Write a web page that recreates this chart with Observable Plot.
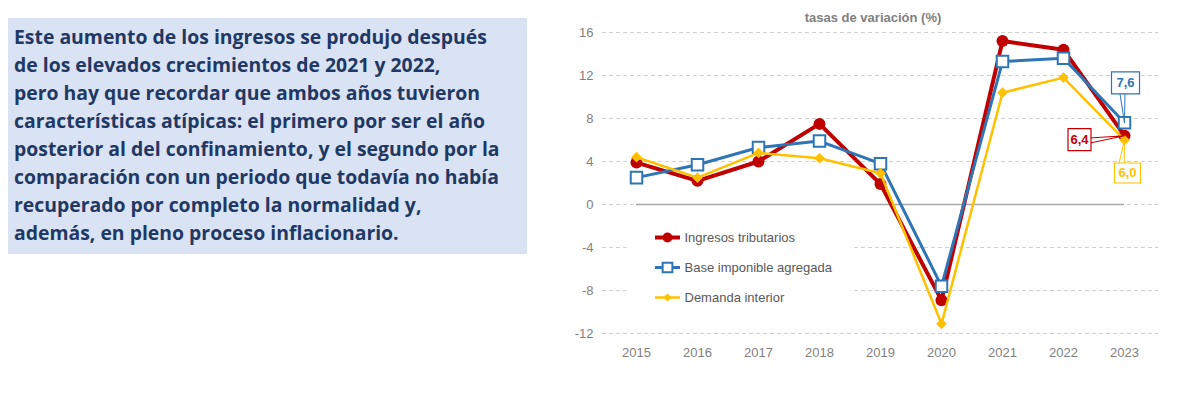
<!DOCTYPE html>
<html><head><meta charset="utf-8">
<script src="https://cdn.jsdelivr.net/npm/d3@7"></script>
<script src="https://cdn.jsdelivr.net/npm/@observablehq/plot@0.6"></script>
<style>
html,body{margin:0;padding:0;background:#fff}
body{width:1187px;height:397px;position:relative;overflow:hidden}
#note{position:absolute;left:8px;top:18px;width:519px;height:236px;background:#dae3f3;box-sizing:border-box;padding:5px 0 0 6px;color:#1f3864;font:700 19.4px/28px "Open Sans",sans-serif;white-space:nowrap}
#title{position:absolute;left:773px;top:10px;width:200px;text-align:center;font:700 13px "Liberation Sans",sans-serif;color:#7f7f7f}
#chart{position:absolute;left:540px;top:0}
</style></head>
<body>
<div id="note">Este aumento de los ingresos se produjo después<br>de los elevados crecimientos de 2021 y 2022,<br>pero hay que recordar que ambos años tuvieron<br>características atípicas: el primero por ser el año<br>posterior al del confinamiento, y el segundo por la<br>comparación con un periodo que todavía no había<br>recuperado por completo la normalidad y,<br>además, en pleno proceso inflacionario.</div>
<div id="title">tasas de variación (%)</div>
<div id="chart"></div>
<script>
const years = [2015, 2016, 2017, 2018, 2019, 2020, 2021, 2022, 2023];
const ingresos = [3.9, 2.2, 4.0, 7.5, 1.9, -8.9, 15.2, 14.4, 6.4];
const base = [2.5, 3.7, 5.3, 5.9, 3.8, -7.6, 13.3, 13.6, 7.6];
const demanda = [4.4, 2.5, 4.8, 4.3, 2.9, -11.1, 10.4, 11.8, 6.0];
const seriesNames = ["Ingresos tributarios", "Base imponible agregada", "Demanda interior"];
const yTicks = [-12, -8, -4, 0, 4, 8, 12, 16];
const labelFmt = v => v.toFixed(1).replace(".", ",");

const RED = "#c00000", BLUE = "#2e75b6", YEL = "#ffc000";
const toRows = vals => years.map((year, i) => ({year, value: vals[i]}));
const rIng = toRows(ingresos), rBase = toRows(base), rDem = toRows(demanda);
const last = arr => [{year: years[years.length - 1], value: arr[arr.length - 1]}];

const rectSym = (w, h) => ({draw(ctx) { ctx.rect(-w / 2, -h / 2, w, h); }});
const segSym = (w) => ({draw(ctx) { ctx.moveTo(-w / 2, 0); ctx.lineTo(w / 2, 0); }});

const legendRows = [
  {name: seriesNames[0], color: RED, dy: 205, lw: 4, marker: {symbol: "circle", r: 5, fill: RED, stroke: "none"}},
  {name: seriesNames[1], color: BLUE, dy: 235, lw: 3, marker: {symbol: "square", r: 5.5, fill: "white", stroke: BLUE, strokeWidth: 2}},
  {name: seriesNames[2], color: YEL, dy: 265, lw: 2.5, marker: {symbol: "diamond2", r: 3.6, fill: YEL, stroke: "none"}}
];
const legendMarks = legendRows.flatMap(row => [
  Plot.dot([0], {frameAnchor: "top-left", dx: 65, dy: row.dy, symbol: segSym(25), stroke: row.color, strokeWidth: row.lw, fill: "none"}),
  Plot.dot([0], {frameAnchor: "top-left", dx: 65, dy: row.dy, ...row.marker}),
  Plot.text([row.name], {frameAnchor: "top-left", dx: 82, dy: row.dy, text: d => d, textAnchor: "start", lineAnchor: "middle", fill: "#595959", fontSize: 13})
]);

const callouts = [
  {data: last(base), color: BLUE, dx: 1, dy: -40, w: 28, h: 22, len: 29, rot: 176},
  {data: last(ingresos), color: RED, dx: -45, dy: 4, w: 23, h: 22, len: 35, rot: 82},
  {data: last(demanda), color: YEL, dx: 3, dy: 33, w: 26, h: 20, len: 23, rot: 7}
];
const calloutMarks = callouts.flatMap(c => [
  Plot.vector(c.data, {x: "year", y: "value", length: c.len, rotate: c.rot, anchor: "end", shape: "spike", r: 2.5, fill: "white", stroke: c.color, strokeWidth: 1}),
  Plot.dot(c.data, {x: "year", y: "value", dx: c.dx, dy: c.dy, symbol: rectSym(c.w, c.h), fill: "white", stroke: c.color, strokeWidth: 1.2}),
  Plot.text(c.data, {x: "year", y: "value", dx: c.dx, dy: c.dy, text: d => labelFmt(d.value), fill: c.color, fontWeight: "bold", fontSize: 13})
]);

const chart = Plot.plot({
  width: 647,
  height: 397,
  marginTop: 32,
  marginBottom: 64,
  marginLeft: 62,
  marginRight: 29,
  style: {fontFamily: "'Liberation Sans',sans-serif", fontSize: "13px", color: "#7f7f7f", background: "transparent"},
  x: {type: "point", domain: years, padding: 0.5, label: null},
  y: {domain: [-12, 16], label: null},
  marks: [
    Plot.gridY(yTicks, {stroke: "#d0d0d0", strokeOpacity: 1, strokeDasharray: "4,3"}),
    Plot.dot([0], {frameAnchor: "top-left", dx: 136, dy: 235, symbol: rectSym(224, 80), fill: "white", stroke: "none"}),
    Plot.axisY(yTicks, {tickSize: 0, tickPadding: 9, tickFormat: d => String(d), fill: "#7f7f7f", label: null}),
    Plot.axisX({tickSize: 0, tickPadding: 14, tickFormat: d => String(d), fill: "#7f7f7f", label: null}),
    Plot.ruleY([0], {x1: years[0], x2: years[years.length - 1], stroke: "#a6a6a6", strokeWidth: 1.5}),
    Plot.line(rIng, {x: "year", y: "value", stroke: RED, strokeWidth: 4}),
    Plot.dot(rIng, {x: "year", y: "value", r: 6, fill: RED, stroke: "none"}),
    Plot.line(rBase, {x: "year", y: "value", stroke: BLUE, strokeWidth: 3}),
    Plot.dot(rBase, {x: "year", y: "value", symbol: "square", r: 6.5, fill: "white", stroke: BLUE, strokeWidth: 2}),
    Plot.line(rDem, {x: "year", y: "value", stroke: YEL, strokeWidth: 2.5}),
    Plot.dot(rDem, {x: "year", y: "value", symbol: "diamond2", r: 4.8, fill: YEL, stroke: "none"}),
    ...legendMarks,
    ...calloutMarks
  ]
});
document.getElementById("chart").appendChild(chart);
</script>
</body></html>
